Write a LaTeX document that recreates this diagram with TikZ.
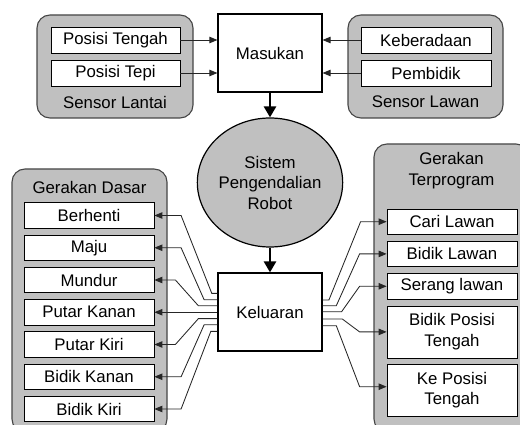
\documentclass[tikz,border=0pt]{standalone}
\usepackage{fontspec}
\setmainfont{Liberation Sans}
\usetikzlibrary{arrows.meta,calc,shapes.geometric}

\definecolor{grpfill}{RGB}{192,192,192}
\definecolor{grpline}{RGB}{70,70,70}

\tikzset{
  grp/.style={draw=grpline, fill=grpfill, line width=1.1pt, rounded corners=13pt,
              inner sep=0pt},
  item/.style={draw=black, fill=white, line width=0.8pt, minimum width=130pt,
               minimum height=25.5pt, inner sep=0pt, align=center},
  tallitem/.style={item, minimum height=52pt},
  hub/.style={draw=black, fill=white, line width=1.2pt, minimum width=104pt,
              minimum height=78pt, inner sep=0pt},
  lbl/.style={inner sep=0pt, align=center},
  conn/.style={draw=black!85, line width=0.85pt,
               -{Triangle[length=8pt,width=6.5pt]}},
  bigarrow/.style={draw=black, line width=2.6pt,
               -{Triangle[length=11pt,width=12pt]}},
}

\begin{document}
\begin{tikzpicture}[x=1pt,y=-1pt,
  every node/.append style={font=\fontsize{16.8}{20.5}\selectfont}]
\useasboundingbox (0,0) rectangle (520,425);

% ---- input side: floor and opponent sensors ----
\node[grp, minimum width=156pt, minimum height=103pt] (lantai) at (115,66.5) {};
\node[item, minimum width=129pt, minimum height=26pt] (ptengah) at (115.5,40) {Posisi Tengah};
\node[item, minimum width=129pt, minimum height=26pt] (ptepi) at (115.5,73) {Posisi Tepi};
\node[lbl] (lantaiLbl) at (115,102) {Sensor Lantai};

\node[grp, minimum width=155pt, minimum height=103pt] (lawan) at (425.5,66.5) {};
\node[item, minimum width=130pt, minimum height=26pt] (ada) at (426,40) {Keberadaan};
\node[item, minimum width=130pt, minimum height=26pt] (bidik) at (426,73) {Pembidik};
\node[lbl] (lawanLbl) at (425.5,102) {Sensor Lawan};

\node[hub] (mas) at (270,53) {Masukan};

\draw[conn] (ptengah.east) -- (ptengah.east -| mas.west);
\draw[conn] (ptepi.east) -- (ptepi.east -| mas.west);
\draw[conn] (ada.west) -- (ada.west -| mas.east);
\draw[conn] (bidik.west) -- (bidik.west -| mas.east);

% ---- controller ----
\node[ellipse, draw=black, fill=grpfill, line width=1.2pt, minimum width=134pt,
      minimum height=129pt, inner sep=0pt, align=center] (sys) at (270,182.5)
      {Sistem\\Pengendalian\\Robot};

\node[hub] (kel) at (270,312) {Keluaran};

\draw[bigarrow] (mas.south) -- (sys.north);
\draw[bigarrow] (sys.south) -- (kel.north);

% ---- basic motions ----
\node[grp, minimum width=155pt, minimum height=263pt] (dasar) at (89.5,300.5) {};
\node[lbl] (dasarLbl) at (89.5,187) {Gerakan Dasar};
\node[item] (b1) at (89,215.5) {Berhenti};
\node[item] (b2) at (89,247.75) {Maju};
\node[item] (b3) at (89,280) {Mundur};
\node[item] (b4) at (89,312.25) {Putar Kanan};
\node[item] (b5) at (89,344.5) {Putar Kiri};
\node[item] (b6) at (89,376.75) {Bidik Kanan};
\node[item] (b7) at (89,409) {Bidik Kiri};

\draw[conn] ($(kel.west)+(0,-18.6)$) -- ++(-5.6,0) -- ($(b1.east)+(26.7,0)$) -- (b1.east);
\draw[conn] ($(kel.west)+(0,-12.3)$) -- ++(-13.3,0) -- ($(b2.east)+(26.7,0)$) -- (b2.east);
\draw[conn] ($(kel.west)+(0,-6.2)$) -- ++(-19,0) -- ($(b3.east)+(21,0)$) -- (b3.east);
\draw[conn] (kel.west |- b4.east) -- (b4.east);
\draw[conn] ($(kel.west)+(0,6.6)$) -- ++(-19,0) -- ($(b5.east)+(21,0)$) -- (b5.east);
\draw[conn] ($(kel.west)+(0,12.8)$) -- ++(-13.3,0) -- ($(b6.east)+(26.7,0)$) -- (b6.east);
\draw[conn] ($(kel.west)+(0,19.4)$) -- ++(-6.6,0) -- ($(b7.east)+(26.7,0)$) -- (b7.east);

% ---- programmed motions ----
\node[grp, minimum width=155pt, minimum height=288pt] (prog) at (451.5,288) {};
\node[lbl] (progLbl) at (451.5,170.5) {Gerakan\\Terprogram};
\node[item] (p1) at (452,221.7) {Cari Lawan};
\node[item] (p2) at (452,253.9) {Bidik Lawan};
\node[item] (p3) at (452,286.3) {Serang lawan};
\node[tallitem] (p4) at (452,331.9) {Bidik Posisi\\Tengah};
\node[tallitem] (p5) at (452,390) {Ke Posisi\\Tengah};

\draw[conn] ($(kel.east)+(0,-12)$) -- ++(6.3,0) -- ($(p1.west)+(-26,0)$) -- (p1.west);
\draw[conn] ($(kel.east)+(0,-6.3)$) -- ++(13.7,0) -- ($(p2.west)+(-27,0)$) -- (p2.west);
\draw[conn] ($(kel.east)+(0,-0.3)$) -- ++(19,0) -- ($(p3.west)+(-27,0)$) -- (p3.west);
\draw[conn] ($(kel.east)+(0,7)$) -- ++(19.7,0) -- ($(p4.west)+(-27,0)$) -- (p4.west);
\draw[conn] ($(kel.east)+(0,13.7)$) -- ++(13.7,0) -- ($(p5.west)+(-27,-3.3)$) -- ($(p5.west)+(0,-3.3)$);
\end{tikzpicture}
\end{document}
